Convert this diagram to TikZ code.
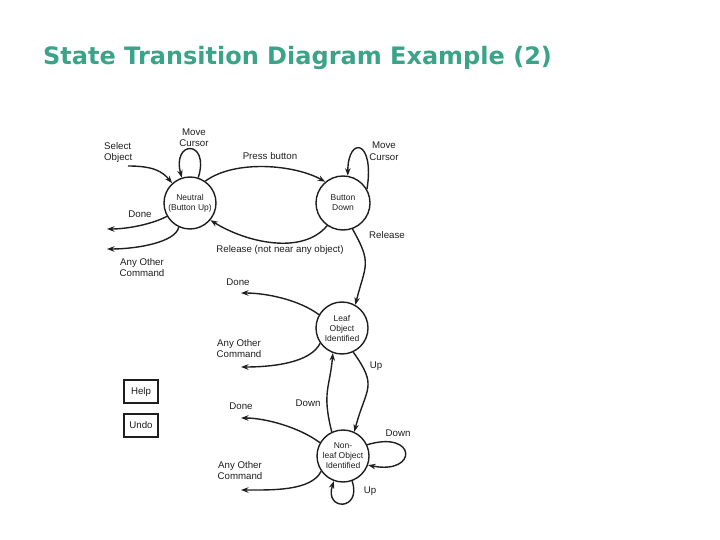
\documentclass[tikz,border=0pt]{standalone}
\usepackage{fontspec}
\setmainfont{Liberation Sans}
\newfontfamily\titlefont{DejaVu Sans}
\usetikzlibrary{arrows.meta}
\definecolor{titlecol}{RGB}{58,163,136}
\definecolor{ink}{RGB}{30,30,30}
\tikzset{
  state/.style={circle,draw=ink,line width=1.4pt,minimum size=52pt,inner sep=0pt,align=center,font=\fontsize{8.5}{10}\selectfont,text=ink},
  lbl/.style={font=\fontsize{9.7}{11.5}\selectfont,align=center,text=ink,inner sep=0pt},
  btn/.style={draw=ink,line width=1.3pt,minimum width=34pt,minimum height=23pt,inner sep=0pt,font=\fontsize{9.7}{11}\selectfont,text=ink},
  tr/.style={draw=ink,line width=1.4pt,-{Stealth[length=7.5pt,width=5.5pt]}}
}
\begin{document}
\begin{tikzpicture}[x=1pt,y=-1pt]
\useasboundingbox (0,0) rectangle (720,540);
\node[anchor=base west,inner sep=0pt,text=titlecol,font=\titlefont\bfseries\fontsize{24}{28}\selectfont] (title) at (43,65) {State Transition Diagram Example (2)};

% states
\node[state] (N) at (190,203) {Neutral\\(Button Up)};
\node[state,minimum size=54pt] (B) at (343,203) {Button\\Down};
\node[state] (L) at (342,328) {Leaf\\Object\\Identified};
\node[state] (NL) at (343,456) {Non-\\leaf Object\\Identified};

% buttons
\node[btn] (help) at (141,391.5) {Help};
\node[btn] (undo) at (141,425.5) {Undo};

% free ends
\coordinate (selO) at (128,166);
\coordinate (doneN) at (107,229);
\coordinate (anyN) at (107,249);
\coordinate (doneL) at (241,293);
\coordinate (anyL) at (241,367);
\coordinate (doneNL) at (241,418);
\coordinate (anyNL) at (241,490);

% transitions
\draw[tr] (selO) .. controls +(25,0) and +(-10,-12) .. (N.132);
\draw[tr] (N.72) .. controls +(12,-38) and +(-10,-38) .. (N.108);
\draw[tr] (N.55) .. controls +(30,-22) and +(-30,-17) .. (B.130);
\draw[tr] (B.30) .. controls +(8,-50) and +(0,-40) .. (B.80);
\draw[tr] (B.235) .. controls +(-25,30) and +(35,22) .. (N.320);
\draw[tr] (N.210) .. controls +(-15,8) and +(20,0) .. (doneN);
\draw[tr] (N.245) .. controls +(-3,15) and +(30,0) .. (anyN);
\draw[tr] (B.290) .. controls +(20,35) and +(10,-40) .. (L.60);
\draw[tr] (L.150) .. controls +(-20,-15) and +(25,0) .. (doneL);
\draw[tr] (L.215) .. controls +(-10,20) and +(30,0) .. (anyL);
\draw[tr] (NL.115) .. controls +(-10,-40) and +(-3,35) .. (L.250);
\draw[tr] (L.295) .. controls +(25,35) and +(12,-45) .. (NL.65);
\draw[tr] (NL.150) .. controls +(-20,-15) and +(25,0) .. (doneNL);
\draw[tr] (NL.215) .. controls +(-10,20) and +(30,0) .. (anyNL);
\draw[tr] (NL.25) .. controls +(50,-15) and +(50,10) .. (NL.340);
\draw[tr] (NL.290) .. controls +(10,30) and +(-10,30) .. (NL.250);

% labels
\node[lbl,align=left,anchor=west] (l1) at (104,152.5) {Select\\Object};
\node[lbl] (l2) at (194,137.5) {Move\\Cursor};
\node[lbl] (l3) at (270,156) {Press button};
\node[lbl] (l4) at (384,151) {Move\\Cursor};
\node[lbl] (l5) at (140,214) {Done};
\node[lbl] (l6) at (142,267.5) {Any Other\\Command};
\node[lbl] (l7) at (280,250) {Release (not near any object)};
\node[lbl] (l8) at (387,235) {Release};
\node[lbl] (l9) at (238,282) {Done};
\node[lbl] (l10) at (239,348.5) {Any Other\\Command};
\node[lbl] (l11) at (376,366) {Up};
\node[lbl] (l12) at (241,406) {Done};
\node[lbl] (l13) at (308,403) {Down};
\node[lbl] (l14) at (398,433) {Down};
\node[lbl] (l15) at (240,470.5) {Any Other\\Command};
\node[lbl] (l16) at (370,491) {Up};
\end{tikzpicture}
\end{document}
